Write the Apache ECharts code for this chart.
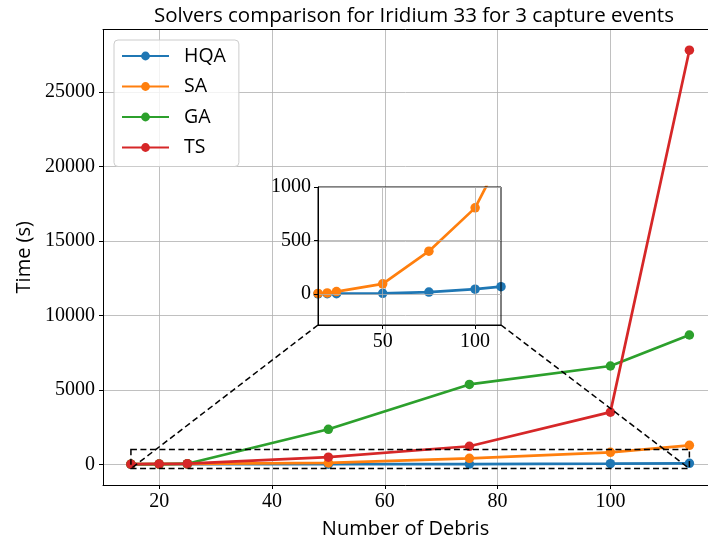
<!DOCTYPE html>
<html>
<head>
<meta charset="utf-8">
<script src="https://cdn.jsdelivr.net/npm/echarts@6/dist/echarts.min.js"></script>
<style>html,body{margin:0;padding:0;background:#fff}#c{width:708px;height:548px}</style>
</head>
<body>
<div id="c"></div>
<script>
const debris = [15, 20, 25, 50, 75, 100, 114];
const hqa = [1, 2, 3, 6, 18, 45, 68];
const sa  = [5, 10, 22, 95, 400, 805, 1275];
const ga  = [5, 15, 40, 2350, 5360, 6600, 8680];
const ts  = [10, 25, 40, 480, 1210, 3500, 27800];
const seriesNames = ['HQA', 'SA', 'GA', 'TS'];
const insetSeries = ['HQA', 'SA'];
const colors = ['#1f77b4', '#ff7f0e', '#2ca02c', '#d62728'];
const xTicks = [20, 40, 60, 80, 100];
const yTicks = [0, 5000, 10000, 15000, 20000, 25000];
const insetXTicks = [50, 100];
const insetYTicks = [0, 500, 1000];
const mainX = [10.05, 117.3];
const mainY = [-1390, 29190];
const insetX = [15, 114];
const insetY = [-290, 1000];

const allData = [hqa, sa, ga, ts];
const serifFont = 'Liberation Serif';
const sansFont = 'Open Sans';

function pairs(vals) { return debris.map((d, i) => [d, vals[i]]); }

const series = [];
allData.forEach((vals, k) => {
  series.push({
    name: seriesNames[k], type: 'line', xAxisIndex: 0, yAxisIndex: 0,
    data: pairs(vals), symbol: 'circle', symbolSize: 9.5,
    lineStyle: { width: 2.7, color: colors[k] },
    itemStyle: { color: colors[k] }, clip: false, z: 3 + k
  });
});
insetSeries.forEach(nm => {
  const k = seriesNames.indexOf(nm);
  series.push({
    name: nm, type: 'line', xAxisIndex: 1, yAxisIndex: 1,
    data: pairs(allData[k]), symbol: 'circle', symbolSize: 9.5,
    lineStyle: { width: 2.7, color: colors[k] },
    itemStyle: { color: colors[k] }, clip: true, z: 3 + k
  });
});

function axisCommon(fontSize) {
  return {
    axisLine: { show: true, onZero: false, lineStyle: { color: '#000', width: 1 } },
    axisTick: { show: true, length: 4, inside: false, lineStyle: { color: '#000', width: 1 } },
    splitLine: { show: true, lineStyle: { color: '#b0b0b0', width: 0.8 } },
    axisLabel: { color: '#000', fontFamily: serifFont, fontSize: fontSize, formatter: v => String(v) }
  };
}

const option = {
  animation: false,
  backgroundColor: '#fff',
  color: colors,
  title: {
    text: 'Solvers comparison for Iridium 33 for 3 capture events',
    left: 409, top: 1, textAlign: 'center',
    textStyle: { fontFamily: sansFont, fontWeight: 'normal', fontSize: 20.5, color: '#000' }
  },
  legend: {
    data: seriesNames, orient: 'vertical', left: 114, top: 40,
    itemWidth: 47, itemHeight: 11, itemGap: 10.5,
    padding: [6, 13, 9, 7],
    borderColor: '#cccccc', borderWidth: 1, borderRadius: 4,
    backgroundColor: 'rgba(255,255,255,0.8)',
    textStyle: { fontFamily: sansFont, fontSize: 19.5, color: '#000', lineHeight: 20, padding: [0, 0, 0, 10] }
  },
  grid: [
    { left: 103, top: 29.5, right: 0, height: 455.5, show: false },
    { left: 318, top: 187, width: 183, height: 138, show: true, borderColor: '#000', borderWidth: 1, backgroundColor: 'transparent', z: 10 }
  ],
  xAxis: [
    Object.assign(axisCommon(20), {
      type: 'value', gridIndex: 0, min: mainX[0], max: mainX[1],
      name: 'Number of Debris', nameLocation: 'middle', nameGap: 34,
      nameTextStyle: { fontFamily: sansFont, fontSize: 20, color: '#000' }
    }),
    Object.assign(axisCommon(20), {
      type: 'value', gridIndex: 1, min: insetX[0], max: insetX[1], z: 10
    }),
    {
      type: 'value', gridIndex: 0, position: 'top', min: mainX[0], max: mainX[1],
      axisLine: { show: true, onZero: false, lineStyle: { color: '#000', width: 1 } },
      axisTick: { show: false }, axisLabel: { show: false }, splitLine: { show: false }
    }
  ],
  yAxis: [
    Object.assign(axisCommon(20), {
      type: 'value', gridIndex: 0, min: mainY[0], max: mainY[1],
      name: 'Time (s)', nameLocation: 'middle', nameGap: 67,
      nameTextStyle: { fontFamily: sansFont, fontSize: 20, color: '#000' }
    }),
    Object.assign(axisCommon(20), {
      type: 'value', gridIndex: 1, min: insetY[0], max: insetY[1], z: 10
    })
  ],
  series: series
};

option.xAxis[0].axisTick.customValues = xTicks;
option.xAxis[0].axisLabel.customValues = xTicks;
option.xAxis[0].axisLabel.margin = 7;
option.yAxis[0].axisTick.customValues = yTicks;
option.yAxis[0].axisLabel.customValues = yTicks;
option.yAxis[0].axisLabel.margin = 8;
option.xAxis[1].axisTick.customValues = insetXTicks;
option.xAxis[1].axisLabel.customValues = insetXTicks;
option.xAxis[1].axisLabel.margin = 7;
option.yAxis[1].axisTick.customValues = insetYTicks;
option.yAxis[1].axisLabel.customValues = insetYTicks;
option.yAxis[1].axisLabel.margin = 7;

const chart = echarts.init(document.getElementById('c'), null, { renderer: 'canvas' });
chart.setOption(option);

const p0 = v => chart.convertToPixel({ xAxisIndex: 0, yAxisIndex: 0 }, v);
const p1 = v => chart.convertToPixel({ xAxisIndex: 1, yAxisIndex: 1 }, v);
const a = p0([insetX[0], insetY[0]]);
const b = p0([insetX[1], insetY[1]]);
const ia = p1([insetX[0], insetY[0]]);
const ib = p1([insetX[1], insetY[0]]);
const dash = { stroke: '#000', lineWidth: 1.5, lineDash: [6, 3.5], fill: null };
chart.setOption({
  graphic: [
    { type: 'rect', shape: { x: a[0], y: b[1], width: b[0] - a[0], height: a[1] - b[1] }, style: dash, z: 20, silent: true },
    { type: 'line', shape: { x1: ia[0], y1: ia[1], x2: a[0], y2: a[1] }, style: dash, z: 20, silent: true },
    { type: 'line', shape: { x1: ib[0], y1: ib[1], x2: b[0], y2: a[1] }, style: dash, z: 20, silent: true }
  ]
});
</script>
</body>
</html>
